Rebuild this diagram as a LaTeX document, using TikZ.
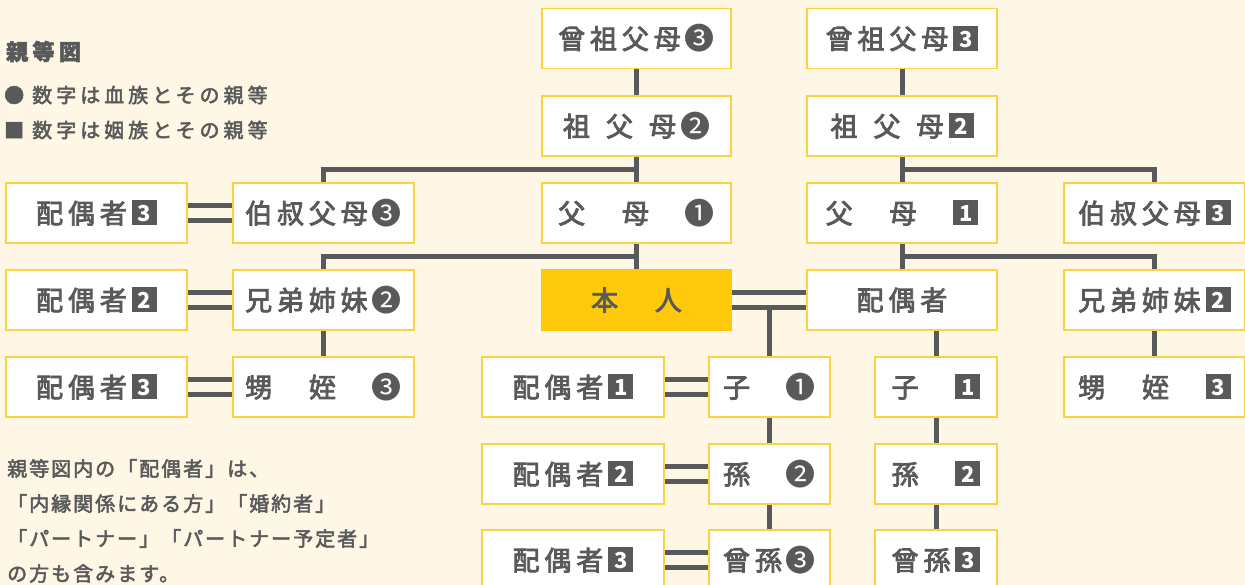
\documentclass[tikz,border=0pt]{standalone}
\usepackage{fontspec}
\usetikzlibrary{positioning}
\setmainfont{Noto Sans CJK JP}
\newfontfamily\boxfont{Noto Sans CJK JP}[LetterSpace=18, FakeBold=3]
\newfontfamily\legendfont{Noto Sans CJK JP}[LetterSpace=20, FakeBold=2.5]
\newfontfamily\notefont{Noto Sans CJK JP}[LetterSpace=10, FakeBold=2.5]
\newfontfamily\circfont{Noto Sans CJK JP}
\definecolor{bg}{HTML}{FEF7E5}
\definecolor{ink}{HTML}{58595B}
\definecolor{edge}{HTML}{FDD23E}
\definecolor{me}{HTML}{FDC90A}
% white number in a dark square (affinity), dark circle (blood)
\newcommand\sqnum[1]{\kern5pt\raisebox{-2pt}{\textcolor{ink}{\rule{25pt}{25pt}}}\hspace{-25pt}\makebox[25pt]{\raisebox{1.5pt}{\color{white}\rmfamily\bfseries\fontsize{22}{22}\selectfont #1}}}
\newcommand\cinum[1]{\kern4pt\raisebox{-1pt}{\circfont\fontsize{30}{30}\selectfont #1}}
\tikzset{
  member/.style={draw=edge, line width=1.5pt, fill=white, minimum height=60pt, inner sep=0pt, text=ink, font=\boxfont\fontsize{27}{27}\selectfont},
  link/.style={draw=ink, line width=5pt},
  pair/.style={draw=ink, line width=5pt, double=bg, double distance=10pt}
}
\begin{document}
\begin{tikzpicture}[x=1pt, y=-1pt]
\useasboundingbox (0,0) rectangle (1245,585);
\fill[bg] (0,0) rectangle (1245,585);
\clip (0,0) rectangle (1245,585);
% legend
\node[anchor=west, inner sep=0pt, text=ink, font=\legendfont\bfseries\fontsize{22}{22}\selectfont] (title) at (6,51.5) {親等図};
\node[anchor=west, inner sep=0pt, text=ink, font=\legendfont\fontsize{20}{20}\selectfont] (blood) at (4,95) {●\kern8pt 数字は血族とその親等};
\node[anchor=west, inner sep=0pt, text=ink, font=\legendfont\fontsize{20}{20}\selectfont] (affin) at (4,130) {■\kern8pt 数字は姻族とその親等};
\node[anchor=north west, inner sep=0pt, align=left, text=ink, font=\notefont\fontsize{20}{35}\selectfont] (note) at (7,459) {親等図内の「配偶者」は、\\「内縁関係にある方」「婚約者」\\「パートナー」「パートナー予定者」\\の方も含みます。};
% own line
\node[member, minimum width=189pt] (sofuL3) at (636.5,38.5) {曾祖父母\cinum{❸}};
\node[member, minimum width=189pt] (sofuL2) at (636.5,126) {祖\hspace{16pt}父\hspace{16pt}母\cinum{❷}};
\node[member, minimum width=189pt] (fuboL) at (636.5,213) {父　母　\cinum{❶}};
\node[member, minimum width=189pt, fill=me, draw=me] (honnin) at (636.5,300) {本　人};
\node[member, minimum width=181pt] (ojiL) at (323.5,213) {伯叔父母\cinum{❸}};
\node[member, minimum width=181pt] (kyoL) at (323.5,300) {兄弟姉妹\cinum{❷}};
\node[member, minimum width=181pt] (oiL) at (323.5,387) {甥　姪　\cinum{❸}};
\node[member, minimum width=181pt] (ojiLs) at (96.5,213) {配偶者\sqnum{3}};
\node[member, minimum width=181pt] (kyoLs) at (96.5,300) {配偶者\sqnum{2}};
\node[member, minimum width=181pt] (oiLs) at (96.5,387) {配偶者\sqnum{3}};
\node[member, minimum width=121pt] (ko) at (769.5,387) {子　\cinum{❶}};
\node[member, minimum width=121pt] (mago) at (769.5,474) {孫　\cinum{❷}};
\node[member, minimum width=121pt] (himago) at (769.5,560) {曾孫\cinum{❸}};
\node[member, minimum width=182pt] (kos) at (573,387) {配偶者\sqnum{1}};
\node[member, minimum width=182pt] (magos) at (573,474) {配偶者\sqnum{2}};
\node[member, minimum width=182pt] (himagos) at (573,560) {配偶者\sqnum{3}};
% spouse line
\node[member, minimum width=190pt] (sofuR3) at (902,38.5) {曾祖父母\sqnum{3}};
\node[member, minimum width=190pt] (sofuR2) at (902,126) {祖\hspace{16pt}父\hspace{16pt}母\sqnum{2}};
\node[member, minimum width=190pt] (fuboR) at (902,213) {父　母　\sqnum{1}};
\node[member, minimum width=190pt] (haigu) at (902,300) {配偶者};
\node[member, minimum width=181pt] (ojiR) at (1154.5,213) {伯叔父母\sqnum{3}};
\node[member, minimum width=181pt] (kyoR) at (1154.5,300) {兄弟姉妹\sqnum{2}};
\node[member, minimum width=181pt] (oiR) at (1154.5,387) {甥　姪　\sqnum{3}};
\node[member, minimum width=122pt] (koR) at (936,387) {子　\sqnum{1}};
\node[member, minimum width=122pt] (magoR) at (936,474) {孫　\sqnum{2}};
\node[member, minimum width=122pt] (himagoR) at (936,560) {曾孫\sqnum{3}};
% branches
\coordinate (jL1) at (636.5,169.5);
\coordinate (jL2) at (636.5,256.5);
\coordinate (jR1) at (902,169.5);
\coordinate (jR2) at (902,256.5);
\coordinate (dbl) at ([yshift=-7.5pt]honnin.east);
\foreach \a/\b in {sofuL3/sofuL2, sofuL2/fuboL, fuboL/honnin, kyoL/oiL, ko/mago, mago/himago,
  sofuR3/sofuR2, sofuR2/fuboR, fuboR/haigu, kyoR/oiR, koR/magoR, magoR/himagoR}
  \draw[link] (\a) -- (\b);
\foreach \j/\b in {jL1/ojiL, jL2/kyoL, jR1/ojiR, jR2/kyoR}
  \draw[link] (\j) -| (\b.north);
\draw[link] (ko.north) -- (ko.north |- dbl);
\draw[link] (koR.north) -- (koR.north |- haigu.south);
\foreach \a/\b in {ojiLs/ojiL, kyoLs/kyoL, oiLs/oiL, honnin/haigu, kos/ko, magos/mago, himagos/himago}
  \draw[pair] (\a) -- (\b);
\end{tikzpicture}
\end{document}
